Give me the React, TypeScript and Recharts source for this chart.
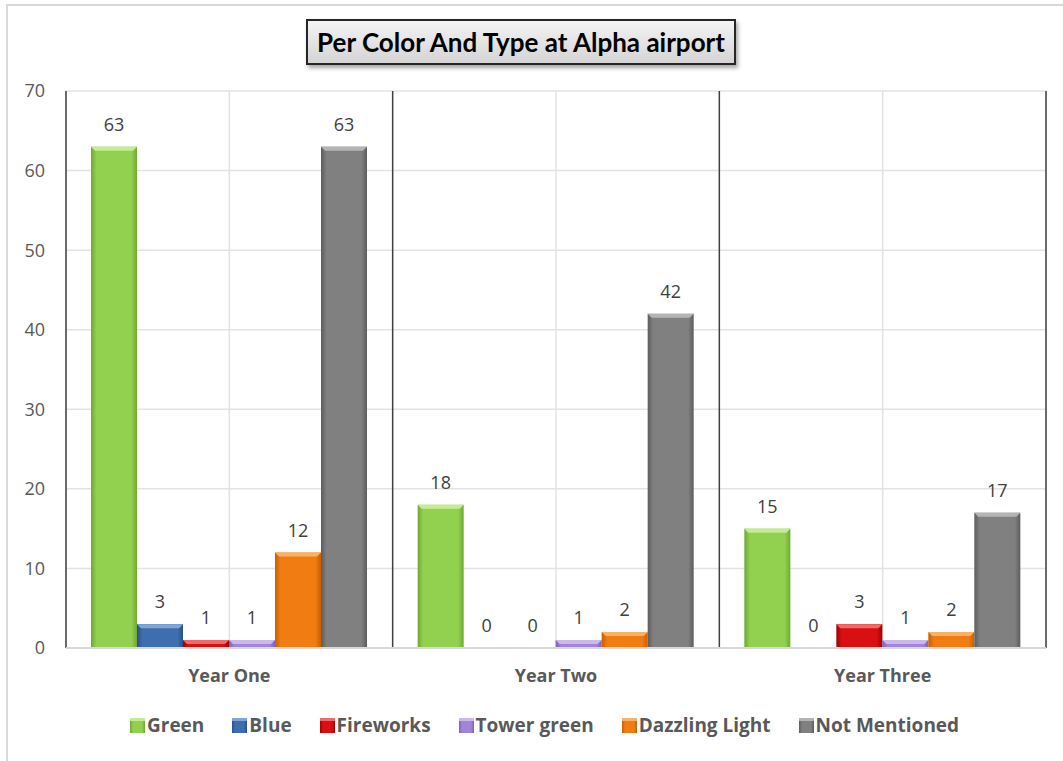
import { BarChart, Bar, XAxis, YAxis, CartesianGrid, ReferenceLine, LabelList } from 'recharts'

const categories = ['Year One', 'Year Two', 'Year Three']
const green = [63, 18, 15]
const blue = [3, 0, 0]
const fireworks = [1, 0, 3]
const towerGreen = [1, 1, 1]
const dazzlingLight = [12, 2, 2]
const notMentioned = [63, 42, 17]
const yTicks = [0, 10, 20, 30, 40, 50, 60, 70]

const series = [
  { key: 'Green', values: green, color: '#92d050', light: '#c4ec95', dark: '#6fa832' },
  { key: 'Blue', values: blue, color: '#3d6fae', light: '#7fa6d8', dark: '#2a5088' },
  { key: 'Fireworks', values: fireworks, color: '#d81010', light: '#f06a6a', dark: '#a00000' },
  { key: 'Tower green', values: towerGreen, color: '#a185d8', light: '#cbb8ef', dark: '#7e62b8' },
  { key: 'Dazzling Light', values: dazzlingLight, color: '#f07c12', light: '#f9b168', dark: '#c85f00' },
  { key: 'Not Mentioned', values: notMentioned, color: '#808080', light: '#b4b4b4', dark: '#5c5c5c' },
]

const data = categories.map((name, i) => {
  const row: Record<string, string | number> = { name }
  series.forEach((s) => (row[s.key] = s.values[i]))
  return row
})

const FONT = '"Open Sans", "Liberation Sans", sans-serif'

function bevelShape(idx: number) {
  return (props: any) => {
    const { x, y, width, height } = props
    if (!height || height <= 0) return <g />
    const s = series[idx]
    const b = Math.min(4, height / 2)
    return (
      <g>
        <rect x={x} y={y} width={width} height={height} fill={`url(#bar-grad-${idx})`} />
        <polygon
          points={`${x},${y} ${x + width},${y} ${x + width - b},${y + b} ${x + b},${y + b}`}
          fill={s.light}
        />
      </g>
    )
  }
}

export default function App() {
  return (
    <div style={{ position: 'absolute', left: 0, top: 0, width: 1063, height: 761, background: '#fff', overflow: 'hidden', fontFamily: FONT }}>
      <div style={{ position: 'absolute', left: 6, top: 4, width: 1100, height: 800, borderTop: '2px solid #d9d9d9', borderLeft: '2px solid #d9d9d9' }} />
      <BarChart
        width={1063}
        height={761}
        data={data}
        margin={{ top: 91, right: 17, left: 0, bottom: 63 }}
        barCategoryGap={25}
        barGap={0}
      >
        <defs>
          {series.map((s, i) => (
            <linearGradient key={s.key} id={`bar-grad-${i}`} x1="0" y1="0" x2="1" y2="0">
              <stop offset="0%" stopColor={s.dark} />
              <stop offset="12%" stopColor={s.color} />
              <stop offset="88%" stopColor={s.color} />
              <stop offset="100%" stopColor={s.dark} />
            </linearGradient>
          ))}
        </defs>
        <CartesianGrid stroke="#e3e3e3" strokeWidth={1.5} />
        <XAxis
          dataKey="name"
          height={50}
          axisLine={{ stroke: '#d9d9d9', strokeWidth: 2 }}
          tickLine={false}
          tickMargin={15}
          tick={{ fill: '#595959', fontSize: 18, fontWeight: 700, fontFamily: FONT }}
        />
        <YAxis
          width={66}
          domain={[0, 70]}
          ticks={yTicks}
          axisLine={false}
          tickLine={false}
          tickMargin={15}
          tick={{ fill: '#595959', fontSize: 18, fontFamily: FONT }}
        />
        {categories.map((c) => (
          <ReferenceLine key={c} x={c} position="start" stroke="#404040" strokeWidth={1.5} />
        ))}
        <ReferenceLine x={categories[categories.length - 1]} position="end" stroke="#404040" strokeWidth={1.5} />
        {series.map((s, i) => (
          <Bar key={s.key} dataKey={s.key} fill={s.color} shape={bevelShape(i)} isAnimationActive={false}>
            <LabelList dataKey={s.key} position="top" offset={16} fill="#404040" fontSize={18} fontFamily={FONT} />
          </Bar>
        ))}
      </BarChart>
      <div
        style={{
          position: 'absolute', left: 306, top: 19, width: 426, height: 42,
          border: '2px solid #262626',
          background: 'linear-gradient(#f4f4f4, #d4d4d4)',
          boxShadow: '2px 3px 4px rgba(0,0,0,0.35)',
          display: 'flex', alignItems: 'center', justifyContent: 'center',
          fontFamily: 'Lato, sans-serif', fontWeight: 700, fontSize: 26, color: '#000',
        }}
      >
        Per Color And Type at Alpha airport
      </div>
      <div
        style={{
          position: 'absolute', left: 130, top: 712, display: 'flex', gap: 28, whiteSpace: 'nowrap',
          fontWeight: 700, fontSize: 19, color: '#595959',
        }}
      >
        {series.map((s) => (
          <div key={s.key} style={{ display: 'flex', alignItems: 'center', gap: 2 }}>
            <span
              style={{
                display: 'inline-block', width: 15, height: 15,
                background: `linear-gradient(90deg, ${s.dark}, ${s.color} 20%, ${s.color} 80%, ${s.dark})`,
                borderTop: `3px solid ${s.light}`, boxSizing: 'border-box',
              }}
            />
            <span>{s.key}</span>
          </div>
        ))}
      </div>
    </div>
  )
}
